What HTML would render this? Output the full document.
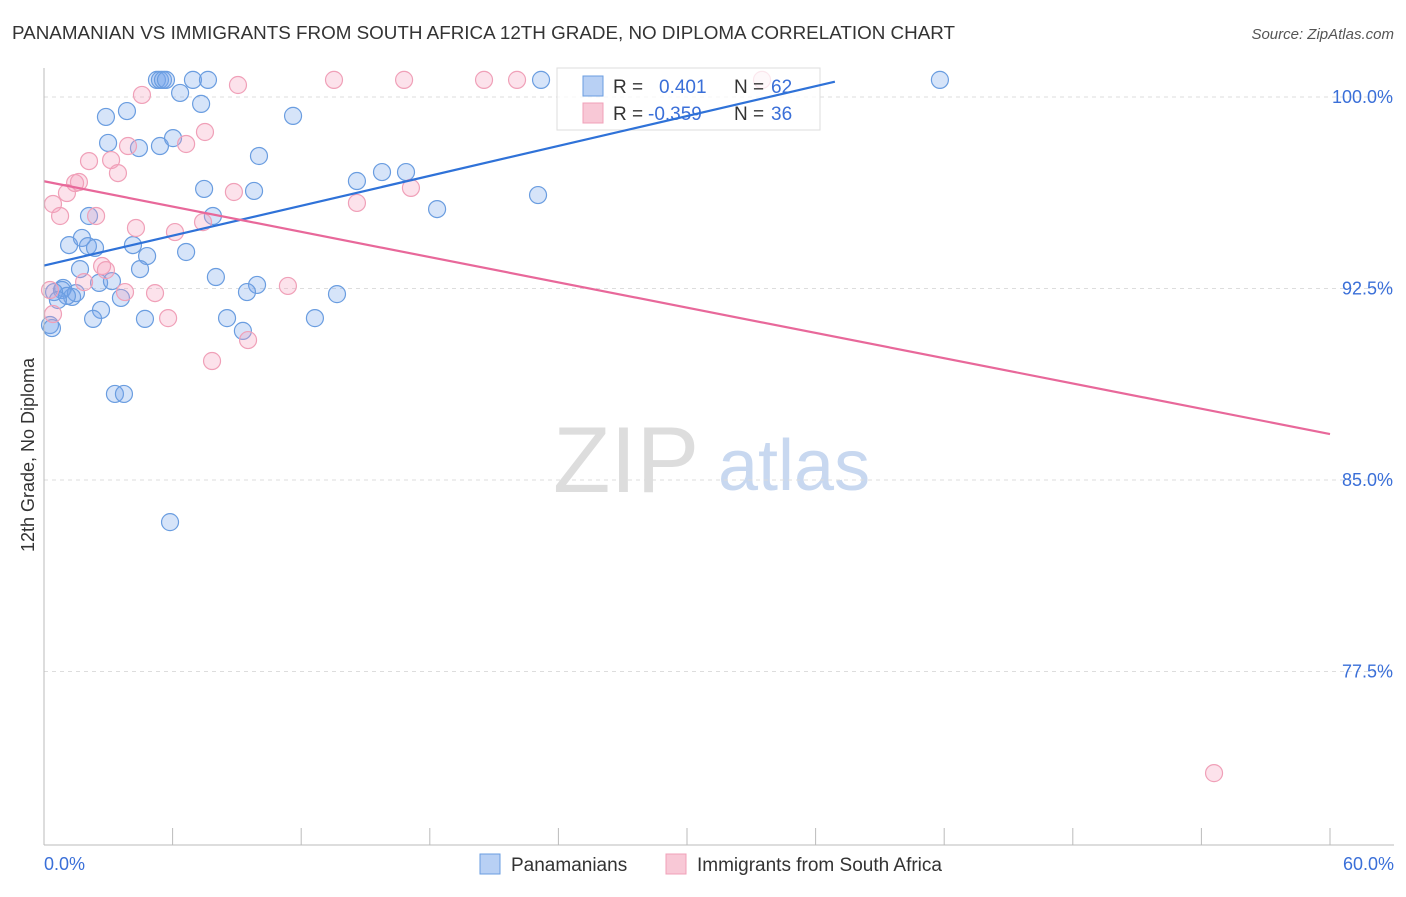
<!DOCTYPE html>
<html><head><meta charset="utf-8"><style>
body{margin:0;background:#fff;font-family:"Liberation Sans",sans-serif;}
svg text{font-family:"Liberation Sans",sans-serif;}
</style></head><body>
<svg id="chart" width="1406" height="892">
<text x="12" y="39" font-size="18" fill="#333" textLength="943" lengthAdjust="spacingAndGlyphs">PANAMANIAN VS IMMIGRANTS FROM SOUTH AFRICA 12TH GRADE, NO DIPLOMA CORRELATION CHART</text>
<text x="1394" y="39" font-size="15" fill="#555" font-style="italic" text-anchor="end">Source: ZipAtlas.com</text>
<text x="34" y="455" font-size="18" fill="#333" text-anchor="middle" transform="rotate(-90 34 455)">12th Grade, No Diploma</text>
<text x="553" y="492" font-size="94" fill="#ddd" font-family="Liberation Serif">ZIP</text>
<text x="718" y="490" font-size="72" fill="#c8d8f0">atlas</text>
<g id="grid"></g><g id="pts"></g>
<g>
<rect x="557" y="68" width="263" height="62" fill="rgba(255,255,255,0.75)" stroke="#ddd"/>
<rect x="583" y="76" width="20" height="20" fill="#b8d0f4" stroke="#6a9de0"/>
<text x="613" y="93" font-size="19" fill="#333">R =</text>
<text x="659" y="93" font-size="19" fill="#3a6fd8">0.401</text>
<text x="734" y="93" font-size="19" fill="#333">N =</text>
<text x="771" y="93" font-size="19" fill="#3a6fd8">62</text>
<rect x="583" y="103" width="20" height="20" fill="#f8c8d6" stroke="#f0a0b8"/>
<text x="613" y="120" font-size="19" fill="#333">R =</text>
<text x="648" y="120" font-size="19" fill="#3a6fd8">-0.359</text>
<text x="734" y="120" font-size="19" fill="#333">N =</text>
<text x="771" y="120" font-size="19" fill="#3a6fd8">36</text>
</g>
<g id="lines"></g>
<line x1="44" y1="68" x2="44" y2="845" stroke="#bbb"/>
<line x1="44" y1="845" x2="1394" y2="845" stroke="#bbb"/>
<text x="44" y="870" font-size="18" fill="#3a6fd8">0.0%</text>
<text x="1394" y="870" font-size="18" fill="#3a6fd8" text-anchor="end">60.0%</text>
<g>
<rect x="480" y="854" width="20" height="20" fill="#b8d0f4" stroke="#6a9de0"/>
<text x="511" y="871" font-size="19" fill="#333">Panamanians</text>
<rect x="666" y="854" width="20" height="20" fill="#f8c8d6" stroke="#f0a0b8"/>
<text x="697" y="871" font-size="19" fill="#333">Immigrants from South Africa</text>
</g>
</svg>
<script>
const yTicks=[100,92.5,85,77.5];
const xTicks=[0,6,12,18,24,30,36,42,48,54,60];
const bluePx=[[157,80],[160,80],[163,80],[166,80],[193,80],[208,80],[541,80],[940,80],[180,93],[201,104],[127,111],[106,117],[293,116],[108,143],[139,148],[160,146],[173,138],[259,156],[357,181],[382,172],[406,172],[204,189],[254,191],[437,209],[538,195],[89,216],[213,216],[69,245],[82,238],[88,246],[95,248],[133,245],[147,256],[186,252],[80,269],[140,269],[216,277],[257,285],[247,292],[63,288],[72,297],[99,283],[112,281],[121,298],[101,310],[93,319],[145,319],[227,318],[315,318],[337,294],[243,331],[50,325],[52,328],[62,290],[76,293],[115,394],[124,394],[170,522],[67,296],[54,292],[58,300]];
const pinkPx=[[142,95],[238,85],[334,80],[404,80],[484,80],[517,80],[762,80],[205,132],[186,144],[128,146],[89,161],[111,160],[118,173],[75,183],[79,182],[53,204],[67,193],[60,216],[96,216],[234,192],[357,203],[411,188],[136,228],[175,232],[203,222],[102,266],[106,270],[84,282],[125,292],[155,293],[288,286],[168,318],[248,340],[212,361],[53,314],[50,290],[1214,773]];
const blueX=bluePx.map(p=>+((p[0]-44)/1286*60).toFixed(2));
const blueY=bluePx.map(p=>+(100-(p[1]-97)/25.533).toFixed(2));
const pinkX=pinkPx.map(p=>+((p[0]-44)/1286*60).toFixed(2));
const pinkY=pinkPx.map(p=>+(100-(p[1]-97)/25.533).toFixed(2));
const blueTrend=[[0,93.4],[36.9,100.6]];
const pinkTrend=[[0,96.7],[60,86.8]];
function sx(v){return 44+v/60*1286;}
function sy(v){return 97+(100-v)*25.533;}
const NS='http://www.w3.org/2000/svg';
const grid=document.getElementById('grid');
yTicks.forEach(t=>{
 const l=document.createElementNS(NS,'line');
 l.setAttribute('x1',44);l.setAttribute('x2',1394);l.setAttribute('y1',sy(t));l.setAttribute('y2',sy(t));
 l.setAttribute('stroke','#ddd');l.setAttribute('stroke-dasharray','4,4');
 
 
 grid.appendChild(l);
 const tx=document.createElementNS(NS,'text');
 tx.setAttribute('x',1393);tx.setAttribute('y',sy(t)+6);tx.setAttribute('text-anchor','end');
 tx.setAttribute('font-size','18');tx.setAttribute('fill','#3a6fd8');
 tx.textContent=t.toFixed(1)+'%';
 
 
 grid.appendChild(tx);
});
xTicks.forEach(t=>{
 const l=document.createElementNS(NS,'line');
 const x=sx(t);
 l.setAttribute('x1',x);l.setAttribute('x2',x);l.setAttribute('y1',828);l.setAttribute('y2',845);
 l.setAttribute('stroke','#bbb');
 
 
 grid.appendChild(l);
});
const pts=document.getElementById('pts');
function dot(x,y,f,s,name){
 const c=document.createElementNS(NS,'circle');
 c.setAttribute('cx',sx(x));c.setAttribute('cy',sy(y));c.setAttribute('r',8.5);
 c.setAttribute('fill',f);c.setAttribute('stroke',s);c.setAttribute('stroke-width','1.2');
 
 
 pts.appendChild(c);
}
blueX.forEach((x,i)=>dot(x,blueY[i],'rgba(120,165,235,0.3)','#6a9de0','panamanian-point'));
pinkX.forEach((x,i)=>dot(x,pinkY[i],'rgba(245,160,190,0.3)','#f0a0b8','south-africa-point'));
const lines=document.getElementById('lines');
function tl(d,col,name,op){
 const l=document.createElementNS(NS,'line');
 l.setAttribute('x1',sx(d[0][0]));l.setAttribute('y1',sy(d[0][1]));l.setAttribute('x2',sx(d[1][0]));l.setAttribute('y2',sy(d[1][1]));
 l.setAttribute('stroke',col);l.setAttribute('stroke-width','2.2');l.setAttribute('opacity',op);
 
 
 lines.appendChild(l);
}
tl(blueTrend,'#2f72d8','panamanian-trendline',1);
tl(pinkTrend,'#e8689a','south-africa-trendline',1);
</script>
</body></html>
